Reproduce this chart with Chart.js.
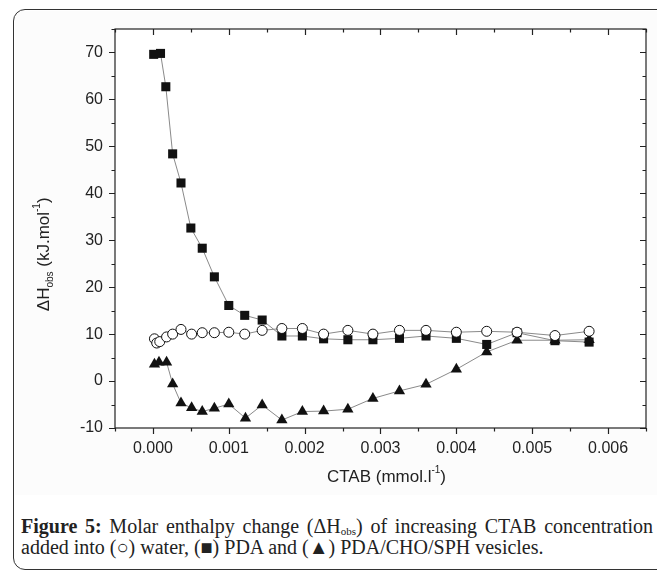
<!DOCTYPE html>
<html>
<head>
<meta charset="utf-8">
<script src="https://cdn.jsdelivr.net/npm/chart.js@4.4.1/dist/chart.umd.min.js"></script>
<style>
  html, body { margin: 0; padding: 0; background: #fff; }
  body { width: 657px; height: 573px; position: relative; overflow: hidden; }
  .frame {
    position: absolute; left: 13px; top: 9px; width: 660px; height: 561px;
    border: 1.5px solid #333; border-radius: 12px; box-sizing: border-box;
  }
  .plot-bg { position: absolute; left: 15px; top: 11px; width: 642px; height: 484px; background: #fcfcfc; }
  #wrap { position: absolute; left: 0; top: 0; width: 657px; height: 495px; }
  .caption {
    position: absolute; left: 21px; top: 516px; width: 632px;
    font-family: "Liberation Serif", "DejaVu Serif", serif; font-size: 20px; line-height: 21px;
    color: #222;
  }
  .caption .l1 { text-align: justify; text-align-last: justify; white-space: nowrap; }
  .caption b { font-weight: bold; }
  .caption sub { font-size: 11px; vertical-align: -2px; line-height: 0; }
</style>
</head>
<body>
<div class="plot-bg"></div>
<div class="frame"></div>
<div id="wrap"><canvas id="chart" width="657" height="495"></canvas></div>
<div class="caption">
  <div class="l1"><b>Figure 5:</b> Molar enthalpy change (ΔH<sub>obs</sub>) of increasing CTAB concentration</div>
  <div>added into (○) water, (■) PDA and (▲) PDA/CHO/SPH vesicles.</div>
</div>
<script>
// CTAB concentration (mmol/l) and enthalpy (kJ/mol)
const waterX = [0.00002, 0.00005, 0.00009, 0.00018, 0.00026, 0.00037, 0.00051, 0.00065, 0.00081, 0.001, 0.00121, 0.00144, 0.0017, 0.00197, 0.00225, 0.00257, 0.0029, 0.00325, 0.0036, 0.004, 0.0044, 0.0048, 0.0053, 0.00575];
const waterY = [9.0, 8.1, 8.4, 9.4, 10.0, 11.0, 10.0, 10.3, 10.3, 10.4, 10.0, 10.8, 11.2, 11.2, 10.0, 10.8, 10.0, 10.8, 10.8, 10.4, 10.6, 10.4, 9.7, 10.6];

const pdaX = [0.00001, 0.0001, 0.00017, 0.00026, 0.00037, 0.0005, 0.00065, 0.00081, 0.001, 0.00121, 0.00144, 0.0017, 0.00197, 0.00225, 0.00257, 0.0029, 0.00325, 0.0036, 0.004, 0.0044, 0.0048, 0.0053, 0.00575];
const pdaY = [69.6, 69.8, 62.7, 48.4, 42.2, 32.6, 28.3, 22.2, 16.1, 14.0, 13.0, 9.6, 9.6, 9.0, 8.8, 8.8, 9.1, 9.6, 9.1, 7.8, 10.3, 8.6, 8.3];

const vesX = [0.00002, 0.00008, 0.00018, 0.00026, 0.00037, 0.00051, 0.00065, 0.00081, 0.001, 0.00122, 0.00144, 0.0017, 0.00197, 0.00225, 0.00257, 0.0029, 0.00325, 0.0036, 0.004, 0.0044, 0.0048, 0.0053, 0.00575];
const vesY = [3.6, 4.0, 4.0, -0.6, -4.7, -5.7, -6.5, -5.8, -4.9, -7.9, -5.1, -8.3, -6.5, -6.4, -6.0, -3.7, -2.1, -0.7, 2.5, 6.2, 8.7, 8.7, 8.8];

const xMin = -0.0005, xMax = 0.0065, xStep = 0.0005;
const yMin = -10, yMax = 75, yStep = 5;

const pts = (xs, ys) => xs.map((x, i) => ({ x, y: ys[i] }));
const AXIS_FONT = '"Liberation Sans", Arial, sans-serif';

// ticks on all four sides plus the axis titles with sub/superscripts
const frameDecor = {
  id: 'frameDecor',
  afterDraw(chart) {
    const { ctx, chartArea: a, scales: { x, y } } = chart;
    ctx.save();
    ctx.strokeStyle = '#222';
    ctx.lineWidth = 1.2;
    ctx.strokeRect(a.left, a.top, a.right - a.left, a.bottom - a.top);
    ctx.beginPath();
    x.ticks.forEach(t => {
      const k = Math.round(t.value / xStep);
      const len = k % 2 === 0 ? 6 : 3.5;
      const px = Math.round(x.getPixelForValue(t.value)) + 0.5;
      ctx.moveTo(px, a.bottom); ctx.lineTo(px, a.bottom + len);
      ctx.moveTo(px, a.top); ctx.lineTo(px, a.top + len);
    });
    y.ticks.forEach(t => {
      const len = Math.round(t.value) % 10 === 0 ? 6 : 3.5;
      const py = Math.round(y.getPixelForValue(t.value)) + 0.5;
      ctx.moveTo(a.left, py); ctx.lineTo(a.left - len, py);
      ctx.moveTo(a.right, py); ctx.lineTo(a.right - len, py);
    });
    ctx.stroke();

    ctx.fillStyle = '#222';
    ctx.textBaseline = 'middle';
    ctx.textAlign = 'left';
    const big = '17px ' + AXIS_FONT, small = '10px ' + AXIS_FONT;
    const widthOf = arr => arr.reduce((s, p) => { ctx.font = p.f; return s + ctx.measureText(p.t).width; }, 0);
    const drawParts = (arr, cx, cy) => {
      let xx = cx - widthOf(arr) / 2;
      arr.forEach(p => { ctx.font = p.f; ctx.fillText(p.t, xx, cy + p.dy); xx += ctx.measureText(p.t).width; });
    };
    // y title: ΔH_obs (kJ.mol^-1)
    ctx.save();
    ctx.translate(44, y.getPixelForValue(27));
    ctx.rotate(-Math.PI / 2);
    drawParts([
      { t: 'ΔH', f: big, dy: 0 },
      { t: 'obs', f: small, dy: 6 },
      { t: ' (kJ.mol', f: big, dy: 0 },
      { t: '-1', f: small, dy: -7 },
      { t: ')', f: big, dy: 0 }
    ], 0, 0);
    ctx.restore();

    // x title: CTAB (mmol.l^-1)
    drawParts([
      { t: 'CTAB (mmol.l', f: big, dy: 0 },
      { t: '-1', f: small, dy: -7 },
      { t: ')', f: big, dy: 0 }
    ], (a.left + a.right) / 2 + 6, 477);
    ctx.restore();
  }
};

const plotWhite = {
  id: 'plotWhite',
  beforeDraw(chart) {
    const { ctx, chartArea: a } = chart;
    ctx.save();
    ctx.fillStyle = '#fff';
    ctx.fillRect(a.left, a.top, a.right - a.left, a.bottom - a.top);
    ctx.restore();
  }
};

const lineStyle = { showLine: true, borderColor: '#8a8a8a', borderWidth: 1, tension: 0 };

new Chart(document.getElementById('chart'), {
  type: 'scatter',
  data: {
    datasets: [
      { label: 'water', data: pts(waterX, waterY), ...lineStyle,
        pointStyle: 'circle', pointRadius: 5, pointBorderWidth: 1,
        pointBorderColor: '#111', pointBackgroundColor: '#fff' },
      { label: 'PDA', data: pts(pdaX, pdaY), ...lineStyle,
        pointStyle: 'rect', pointRadius: 6.4, pointBorderWidth: 0,
        pointBorderColor: '#111', pointBackgroundColor: '#111' },
      { label: 'PDA/CHO/SPH', data: pts(vesX, vesY), ...lineStyle,
        pointStyle: 'triangle', pointRadius: 6.5, pointBorderWidth: 0,
        pointBorderColor: '#111', pointBackgroundColor: '#111' }
    ]
  },
  options: {
    responsive: false,
    animation: false,
    devicePixelRatio: 1,
    layout: { padding: { top: 29, right: 3, left: 0, bottom: 0 } },
    plugins: { legend: { display: false }, tooltip: { enabled: false } },
    scales: {
      x: {
        type: 'linear', min: xMin, max: xMax,
        afterFit: s => { s.height = 67; },
        border: { display: false },
        grid: { display: false, drawTicks: false },
        ticks: {
          stepSize: xStep, padding: 11, color: '#222', maxRotation: 0, autoSkip: false,
          font: { family: AXIS_FONT, size: 16 },
          callback: v => {
            const k = Math.round(v / xStep);
            return (k >= 0 && k % 2 === 0) ? (k * xStep).toFixed(3) : '';
          }
        }
      },
      y: {
        type: 'linear', min: yMin, max: yMax,
        afterFit: s => { s.width = 115; },
        border: { display: false },
        grid: { display: false, drawTicks: false },
        ticks: {
          stepSize: yStep, padding: 12, color: '#222', autoSkip: false,
          font: { family: AXIS_FONT, size: 16 },
          callback: v => (Math.round(v) % 10 === 0 && v <= 70) ? String(Math.round(v)) : ''
        }
      }
    }
  },
  plugins: [plotWhite, frameDecor]
});
</script>
</body>
</html>
